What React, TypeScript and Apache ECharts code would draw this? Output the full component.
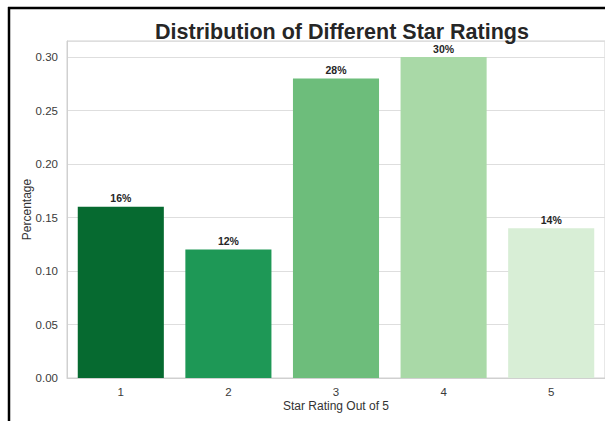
import React, { useEffect, useRef } from "react";
import * as echarts from "echarts";

// Star rating categories and the share of reviews that gave each rating
const ratings = ["1", "2", "3", "4", "5"];
const shares = [0.16, 0.12, 0.28, 0.3, 0.14];
const yTicks = { min: 0, max: 0.315, step: 0.05 };

// Reversed greens, darkest for the lowest rating
const palette = ["#066a30", "#1e9856", "#6dbd7b", "#a9d9a7", "#d8eed6"];

const FONT = "'Liberation Sans', Arial, Helvetica, sans-serif";

export default function App() {
  const ref = useRef<HTMLDivElement>(null);

  useEffect(() => {
    if (!ref.current) return;
    const chart = echarts.init(ref.current, undefined, { renderer: "svg" });
    chart.setOption({
      animation: false,
      backgroundColor: "#ffffff",
      textStyle: { fontFamily: FONT },
      title: {
        text: "Distribution of Different Star Ratings",
        left: 337,
        top: 16,
        textAlign: "center",
        textStyle: {
          fontFamily: FONT,
          fontSize: 21.5,
          fontWeight: "bold",
          color: "#262626",
        },
      },
      grid: {
        left: 67,
        top: 41,
        right: -1,
        bottom: 43,
        show: true,
        borderColor: "#d0d0d0",
        borderWidth: 1,
        backgroundColor: "transparent",
      },
      xAxis: {
        type: "category",
        data: ratings,
        name: "Star Rating Out of 5",
        nameLocation: "middle",
        nameGap: 22,
        nameMoveOverlap: false,
        nameTextStyle: { fontFamily: FONT, fontSize: 12, color: "#333333" },
        axisLine: { show: true, lineStyle: { color: "#d0d0d0", width: 1 } },
        axisTick: { show: false },
        axisLabel: { fontFamily: FONT, fontSize: 11.5, color: "#3a3a3a", margin: 8 },
        splitLine: { show: false },
      },
      yAxis: {
        type: "value",
        min: yTicks.min,
        max: yTicks.max,
        interval: yTicks.step,
        name: "Percentage",
        nameLocation: "middle",
        nameGap: 34,
        nameMoveOverlap: false,
        nameTextStyle: { fontFamily: FONT, fontSize: 12, color: "#333333" },
        axisLine: { show: true, lineStyle: { color: "#d0d0d0", width: 1 } },
        axisTick: { show: false },
        axisLabel: {
          fontFamily: FONT,
          fontSize: 11.5,
          color: "#3a3a3a",
          margin: 9,
          showMaxLabel: false,
          formatter: (v: number) => v.toFixed(2),
        },
        splitLine: { show: true, lineStyle: { color: "#dedede", width: 1 } },
      },
      series: [
        {
          type: "bar",
          barCategoryGap: "20%",
          data: shares.map((v, i) => ({ value: v, itemStyle: { color: palette[i] } })),
          label: {
            show: true,
            position: "top",
            distance: 3,
            fontFamily: FONT,
            fontSize: 10.5,
            fontWeight: "bold",
            color: "#262626",
            formatter: (p: any) => `${Math.round(p.value * 100)}%`,
          },
        },
      ],
      graphic: [
        {
          type: "line",
          shape: { x1: 8, y1: 8, x2: 605, y2: 8 },
          style: { stroke: "#000000", lineWidth: 2.5 },
          z: 100,
        },
        {
          type: "line",
          shape: { x1: 9, y1: 7, x2: 9, y2: 421 },
          style: { stroke: "#000000", lineWidth: 2.5 },
          z: 100,
        },
      ],
    });
    return () => chart.dispose();
  }, []);

  return (
    <div
      ref={ref}
      style={{
        position: "fixed",
        left: 0,
        top: 0,
        width: 605,
        height: 421,
        background: "#ffffff",
      }}
    />
  );
}
